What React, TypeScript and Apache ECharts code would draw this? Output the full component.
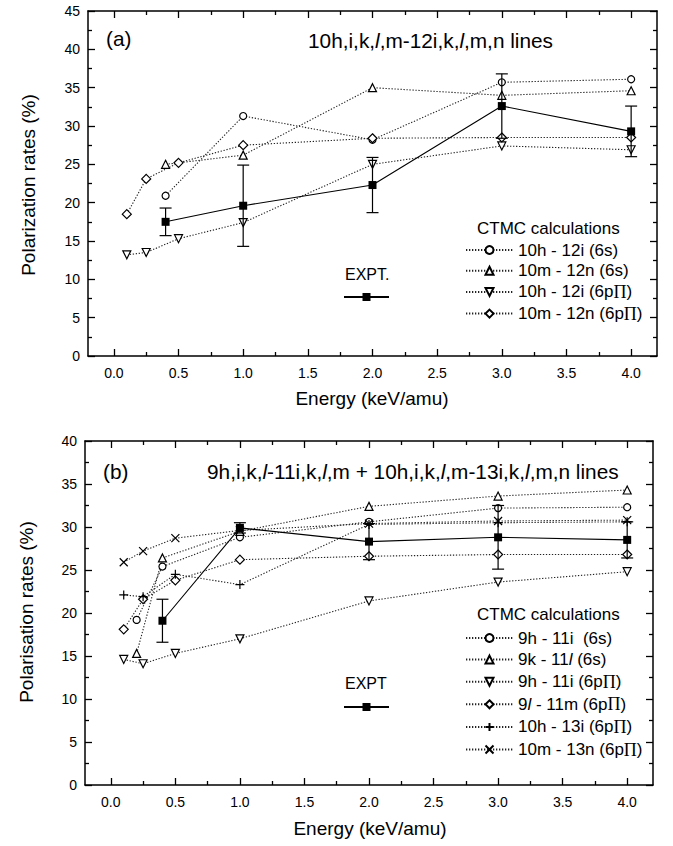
import React, { useEffect, useRef } from "react";
import * as echarts from "echarts";

const FONT = "'Liberation Sans', Arial, Helvetica, sans-serif";
const SERIF = "'Liberation Serif', 'DejaVu Serif', serif";

const xMajorTicks = [0, 0.5, 1, 1.5, 2, 2.5, 3, 3.5, 4];
const xMinorTicks = [0.25, 0.75, 1.25, 1.75, 2.25, 2.75, 3.25, 3.75];

// ---------- panel (a) ----------
const aEnergyS = [0.4, 1.0, 2.0, 3.0, 4.0];
const aEnergyP = [0.1, 0.25, 0.5, 1.0, 2.0, 3.0, 4.0];
const a10h12i6s = [20.9, 31.3, 28.2, 35.7, 36.1];
const a10m12n6s = [25.0, 26.2, 35.0, 34.0, 34.6];
const a10h12i6p = [13.2, 13.5, 15.3, 17.4, 25.0, 27.4, 26.9];
const a10m12n6p = [18.5, 23.1, 25.2, 27.5, 28.4, 28.5, 28.5];
const aExptEnergy = [0.4, 1.0, 2.0, 3.0, 4.0];
const aExptValue = [17.5, 19.6, 22.3, 32.6, 29.3];
const aExptError = [1.8, 5.3, 3.6, 4.2, 3.3];

// ---------- panel (b) ----------
const bEnergyS = [0.2, 0.4, 1.0, 2.0, 3.0, 4.0];
const bEnergyP = [0.1, 0.25, 0.5, 1.0, 2.0, 3.0, 4.0];
const b9h11i6s = [19.2, 25.4, 28.8, 30.6, 32.2, 32.3];
const b9k11l6s = [15.3, 26.4, 29.5, 32.4, 33.6, 34.3];
const b9h11i6p = [14.6, 14.1, 15.3, 17.0, 21.4, 23.6, 24.8];
const b9l11m6p = [18.1, 21.6, 23.8, 26.2, 26.6, 26.8, 26.8];
const b10h13i6p = [22.1, 21.9, 24.5, 23.3, 30.3, 30.5, 30.6];
const b10m13n6p = [25.9, 27.2, 28.7, 29.6, 30.4, 30.7, 30.8];
const bExptEnergy = [0.4, 1.0, 2.0, 3.0, 4.0];
const bExptValue = [19.1, 29.9, 28.3, 28.8, 28.5];
const bExptError = [2.5, 0.6, 2.1, 3.7, 2.1];

const aNames = ["10h - 12i (6s)", "10m - 12n (6s)", "10h - 12i (6pΠ)", "10m - 12n (6pΠ)"];
const bNames = ["9h - 11i  (6s)", "9k - 11l (6s)", "9h - 11i (6pΠ)", "9l - 11m (6pΠ)", "10h - 13i (6pΠ)", "10m - 13n (6pΠ)"];

const richLabel: Record<string, string> = {
  "9k - 11l (6s)": "9k - 11{i|l} (6s)",
  "9l - 11m (6pΠ)": "9{i|l} - 11m (6p{p|Π})",
};

const zip = (xs: number[], ys: number[]) => xs.map((x, i) => [x, ys[i]]);

const PLUS = "path://M5,0L5,10M0,5L10,5";
const CROSS = "path://M0,0L10,10M10,0L0,10";

function calc(name: string, data: number[][], symbol: string, g: number, size = 7, rotate = 0) {
  return {
    name,
    type: "line",
    data,
    xAxisIndex: g * 4,
    yAxisIndex: g * 2,
    symbol,
    symbolSize: size,
    symbolRotate: rotate,
    showAllSymbol: true,
    lineStyle: { type: [1.3, 1.7], width: 1.1, color: "#222" },
    itemStyle: { color: "#fff", borderColor: "#000", borderWidth: 1.2 },
    emphasis: { disabled: true },
    z: 3,
  };
}

function expt(name: string, xs: number[], ys: number[], g: number) {
  return {
    name,
    type: "line",
    data: zip(xs, ys),
    xAxisIndex: g * 4,
    yAxisIndex: g * 2,
    symbol: "rect",
    symbolSize: 8,
    lineStyle: { type: "solid", width: 1.1, color: "#000" },
    itemStyle: { color: "#000", borderColor: "#000", borderWidth: 0 },
    emphasis: { disabled: true },
    z: 6,
  };
}

function errBars(xs: number[], ys: number[], es: number[], g: number) {
  return {
    type: "custom",
    xAxisIndex: g * 4,
    yAxisIndex: g * 2,
    data: xs.map((x, i) => [x, ys[i] - es[i], ys[i] + es[i]]),
    encode: { x: 0, y: [1, 2] },
    silent: true,
    z: 5,
    renderItem: (_p: any, api: any) => {
      const x = api.value(0);
      const lo = api.coord([x, api.value(1)]);
      const hi = api.coord([x, api.value(2)]);
      const hw = 6;
      const st = { stroke: "#000", lineWidth: 1.2 };
      return {
        type: "group",
        children: [
          { type: "line", shape: { x1: lo[0], y1: lo[1], x2: hi[0], y2: hi[1] }, style: st },
          { type: "line", shape: { x1: lo[0] - hw, y1: lo[1], x2: lo[0] + hw, y2: lo[1] }, style: st },
          { type: "line", shape: { x1: hi[0] - hw, y1: hi[1], x2: hi[0] + hw, y2: hi[1] }, style: st },
        ],
      };
    },
  };
}

function xAxes(g: number) {
  const base = { gridIndex: g, type: "value", min: -0.2, max: 4.2, splitLine: { show: false } };
  const line = { show: true, onZero: false, lineStyle: { color: "#000", width: 1.5 } };
  const noLine = { show: false, onZero: false };
  const major = { show: true, inside: true, length: 7, customValues: xMajorTicks, lineStyle: { color: "#000", width: 1.3 } };
  const minor = { show: true, inside: true, length: 4, customValues: xMinorTicks, lineStyle: { color: "#000", width: 1.3 } };
  return [
    {
      ...base,
      position: "bottom",
      axisLine: line,
      axisTick: major,
      axisLabel: {
        show: true,
        customValues: xMajorTicks,
        formatter: (v: number) => v.toFixed(1),
        color: "#000",
        fontSize: 14,
        fontFamily: FONT,
        margin: 10,
      },
    },
    { ...base, position: "bottom", axisLine: noLine, axisTick: minor, axisLabel: { show: false } },
    { ...base, position: "top", axisLine: line, axisTick: major, axisLabel: { show: false } },
    { ...base, position: "top", axisLine: noLine, axisTick: minor, axisLabel: { show: false } },
  ];
}

function yAxes(g: number, max: number) {
  const base = {
    gridIndex: g,
    type: "value",
    min: 0,
    max,
    interval: 5,
    splitLine: { show: false },
    minorSplitLine: { show: false },
    axisLine: { show: true, onZero: false, lineStyle: { color: "#000", width: 1.5 } },
    axisTick: { show: true, inside: true, length: 7, lineStyle: { color: "#000", width: 1.3 } },
    minorTick: { show: true, splitNumber: 2, length: 4, lineStyle: { color: "#000", width: 1.3 } },
  };
  return [
    { ...base, position: "left", axisLabel: { color: "#000", fontSize: 14, fontFamily: FONT, margin: 8 } },
    { ...base, position: "right", axisLabel: { show: false } },
  ];
}

const legendRich = {
  p: { fontFamily: SERIF, fontSize: 18, color: "#000" },
  i: { fontFamily: FONT, fontStyle: "italic", fontSize: 17, color: "#000" },
};

function calcLegend(names: string[], top: number, gap: number) {
  return {
    orient: "vertical",
    left: 465,
    top,
    padding: 0,
    itemGap: gap,
    itemWidth: 47,
    itemHeight: 10,
    selectedMode: false,
    data: names,
    textStyle: { fontSize: 17, fontFamily: FONT, color: "#000", rich: legendRich },
    formatter: (n: string) => richLabel[n] || n.replace("Π", "{p|Π}"),
  };
}

function exptLegend(name: string, top: number) {
  return {
    orient: "vertical",
    left: 343,
    top,
    padding: 0,
    itemWidth: 45,
    itemHeight: 10,
    selectedMode: false,
    data: [name],
    textStyle: { fontSize: 6, color: "#000" },
    formatter: () => "",
  };
}

function txt(x: number, y: number, text: string, size: number, extra: any = {}) {
  return {
    type: "text",
    x,
    y,
    silent: true,
    ...extra,
    style: {
      text,
      fontSize: size,
      fontFamily: FONT,
      fill: "#000",
      textVerticalAlign: "middle",
      verticalAlign: "middle",
      rich: {
        i: { fontStyle: "italic", fontSize: size, fontFamily: FONT, fill: "#000" },
      },
      ...(extra.style || {}),
    },
  };
}

export default function App() {
  const ref = useRef<HTMLDivElement>(null);
  useEffect(() => {
    if (!ref.current) return;
    const chart = echarts.init(ref.current, null, { renderer: "svg" });
    const option: any = {
      animation: false,
      backgroundColor: "#fff",
      textStyle: { fontFamily: FONT },
      grid: [
        { left: 88, top: 11, width: 569, height: 345 },
        { left: 85, top: 441, width: 568, height: 344 },
      ],
      xAxis: [...xAxes(0), ...xAxes(1)],
      yAxis: [...yAxes(0, 45), ...yAxes(1, 40)],
      legend: [
        calcLegend(aNames, 241.5, 3.7),
        calcLegend(bNames, 629.5, 4.6),
        exptLegend("EXPT.", 292),
        exptLegend("EXPT", 702),
      ],
      series: [
        calc(aNames[0], zip(aEnergyS, a10h12i6s), "circle", 0, 7),
        calc(aNames[1], zip(aEnergyS, a10m12n6s), "triangle", 0, 8),
        calc(aNames[2], zip(aEnergyP, a10h12i6p), "triangle", 0, 8, 180),
        calc(aNames[3], zip(aEnergyP, a10m12n6p), "diamond", 0, 9),
        errBars(aExptEnergy, aExptValue, aExptError, 0),
        expt("EXPT.", aExptEnergy, aExptValue, 0),

        calc(bNames[0], zip(bEnergyS, b9h11i6s), "circle", 1, 7),
        calc(bNames[1], zip(bEnergyS, b9k11l6s), "triangle", 1, 8),
        calc(bNames[2], zip(bEnergyP, b9h11i6p), "triangle", 1, 8, 180),
        calc(bNames[3], zip(bEnergyP, b9l11m6p), "diamond", 1, 9),
        calc(bNames[4], zip(bEnergyP, b10h13i6p), PLUS, 1, 9),
        calc(bNames[5], zip(bEnergyP, b10m13n6p), CROSS, 1, 8),
        errBars(bExptEnergy, bExptValue, bExptError, 1),
        expt("EXPT", bExptEnergy, bExptValue, 1),
      ],
      graphic: [
        txt(106, 38, "(a)", 20.8),
        txt(308, 40, "10h,i,k,{i|l},m-12i,k,{i|l},m,n lines", 20.8),
        txt(28, 185, "Polarization rates (%)", 19, { rotation: Math.PI / 2, style: { textAlign: "center", align: "center" } }),
        txt(372, 398, "Energy (keV/amu)", 19, { style: { textAlign: "center", align: "center" } }),
        txt(477, 228, "CTMC calculations", 17),
        txt(345, 274, "EXPT.", 16),

        txt(103, 471, "(b)", 20.8),
        txt(207, 471, "9h,i,k,{i|l}-11i,k,{i|l},m + 10h,i,k,{i|l},m-13i,k,{i|l},m,n lines", 20.8),
        txt(26, 612, "Polarisation rates (%)", 19, { rotation: Math.PI / 2, style: { textAlign: "center", align: "center" } }),
        txt(370, 828, "Energy (keV/amu)", 19, { style: { textAlign: "center", align: "center" } }),
        txt(477, 614, "CTMC calculations", 17),
        txt(345, 683, "EXPT", 16),
      ],
    };
    chart.setOption(option);
    return () => chart.dispose();
  }, []);
  return (
    <div
      ref={ref}
      style={{ position: "fixed", left: 0, top: 0, width: 673, height: 846, background: "#fff" }}
    />
  );
}
